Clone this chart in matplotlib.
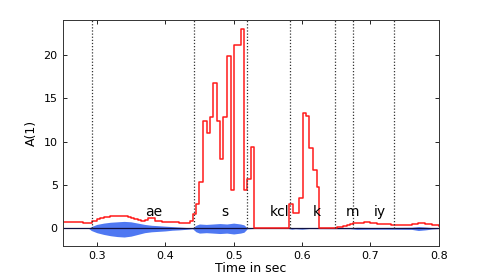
import matplotlib
matplotlib.use("Agg")
import matplotlib.pyplot as plt

# red step curve A(1) (frame start times, values)
red_t = [0.25, 0.26, 0.27, 0.28, 0.285, 0.293, 0.30, 0.305, 0.31, 0.315, 0.32, 0.325,
         0.33, 0.335, 0.34, 0.345, 0.35, 0.355, 0.36, 0.365, 0.37, 0.375, 0.38, 0.385,
         0.39, 0.395, 0.40, 0.41, 0.42, 0.43, 0.436, 0.440, 0.445, 0.450, 0.455, 0.4605,
         0.4655, 0.4703, 0.4752, 0.480, 0.485, 0.4907, 0.4957, 0.5005, 0.5103, 0.5151,
         0.520, 0.5249, 0.5297, 0.5808, 0.5871, 0.5955, 0.6008, 0.6057, 0.6101, 0.6155,
         0.6213, 0.6251, 0.651, 0.655, 0.66, 0.665, 0.67, 0.675, 0.68, 0.69, 0.70, 0.71,
         0.72, 0.73, 0.74, 0.75, 0.76, 0.77, 0.78, 0.79, 0.80]
red_v = [0.78, 0.76, 0.72, 0.66, 0.6, 0.9, 1.05, 1.15, 1.25, 1.35, 1.42, 1.45,
         1.45, 1.42, 1.38, 1.3, 1.2, 1.1, 1.0, 0.9, 0.95, 1.2, 1.2, 0.9,
         0.8, 0.75, 0.72, 0.68, 0.62, 0.6, 0.8, 1.7, 2.8, 5.3, 12.4, 11.0,
         12.8, 16.7, 12.4, 8.0, 12.8, 19.9, 4.4, 21.1, 23.0, 4.4,
         5.7, 9.4, 0.0, 2.8, 1.8, 3.5, 13.3, 12.9, 9.3, 6.75,
         4.75, 0.0, 0.1, 0.2, 0.3, 0.4, 0.5, 0.62, 0.65, 0.68, 0.62, 0.55,
         0.48, 0.42, 0.38, 0.42, 0.55, 0.6, 0.5, 0.4, 0.3]

# speech waveform envelope (blue)
blue_t = [0.25, 0.288, 0.292, 0.30, 0.31, 0.32, 0.33, 0.34, 0.35, 0.36, 0.37, 0.38,
          0.39, 0.40, 0.41, 0.42, 0.43, 0.44, 0.445, 0.45, 0.46, 0.47, 0.48, 0.49,
          0.50, 0.51, 0.515, 0.52, 0.53, 0.58, 0.585, 0.59, 0.60, 0.61, 0.67, 0.68,
          0.70, 0.72, 0.76, 0.77, 0.78, 0.79, 0.80]
blue_hi = [0, 0, 0.2, 0.45, 0.6, 0.7, 0.75, 0.8, 0.75, 0.6, 0.45, 0.35,
           0.3, 0.25, 0.2, 0.15, 0.1, 0.05, 0.35, 0.5, 0.45, 0.5, 0.55, 0.5,
           0.6, 0.5, 0.4, 0.05, 0.02, 0.02, 0.1, 0.05, 0.1, 0.03, 0.05, 0.12,
           0.1, 0.1, 0.12, 0.2, 0.15, 0.08, 0.03]
blue_lo = [0, 0, -0.25, -0.5, -0.7, -0.85, -0.95, -1.0, -0.9, -0.7, -0.5, -0.4,
           -0.35, -0.3, -0.22, -0.18, -0.12, -0.05, -0.4, -0.55, -0.5, -0.55, -0.6, -0.55,
           -0.65, -0.55, -0.45, -0.05, -0.02, -0.02, -0.1, -0.05, -0.1, -0.03, -0.05, -0.12,
           -0.1, -0.1, -0.12, -0.25, -0.18, -0.08, -0.03]

# segment boundaries and phone labels
bounds = [0.293, 0.442, 0.519, 0.582, 0.648, 0.6747, 0.7338]
phones = ["ae", "s", "kcl", "k", "m", "iy"]
phone_x = [0.383, 0.4876, 0.5677, 0.6218, 0.673, 0.714]

fig = plt.figure(figsize=(4.85, 2.77), dpi=100)
ax = fig.add_axes([0.129, 0.113, 0.776, 0.815])

ax.fill_between(blue_t, blue_lo, blue_hi, color="#3060f0", alpha=0.85, lw=0)
ax.axhline(0, color="#101040", lw=0.9)
ax.plot(red_t, red_v, drawstyle="steps-post", color="#ff1a1a", lw=1.1)

for b in bounds:
    ax.plot([b, b], [0, 24], color="#333333", ls=(0, (1, 1.5)), lw=0.9)

for p, x in zip(phones, phone_x):
    ax.text(x, 1.4, p, ha="center", va="baseline", fontsize=10)

ax.set_xlim(0.25, 0.8)
ax.set_ylim(-2, 24)
ax.set_xticks([0.3, 0.4, 0.5, 0.6, 0.7, 0.8])
ax.set_xticklabels(["0.3", "0.4", "0.5", "0.6", "0.7", "0.8"])
ax.set_yticks([0, 5, 10, 15, 20])
ax.tick_params(direction="in", top=True, right=True, labelsize=8, length=3, width=0.6)
for s in ax.spines.values():
    s.set_linewidth(0.7)
    s.set_color("#333333")
ax.set_xlabel("Time in sec", fontsize=9, labelpad=1)
ax.set_ylabel("A(1)", fontsize=9)

fig.savefig("out.png", dpi=100)
